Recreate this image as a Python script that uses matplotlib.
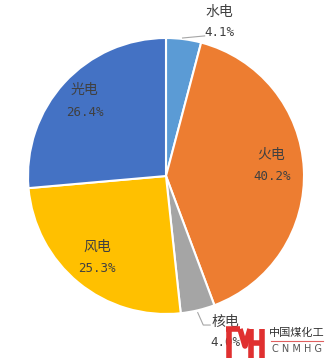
import matplotlib
matplotlib.use("Agg")
import matplotlib.pyplot as plt
from matplotlib.lines import Line2D

# power mix shares (%)
names = ["水电", "火电", "核电", "风电", "光电"]
shares = [4.1, 40.2, 4.0, 25.3, 26.4]
colors = ["#5B9BD5", "#ED7D31", "#A5A5A5", "#FFC000", "#4472C4"]

# label anchors (data coords, radius 1 pie)
name_pos = [(0.39, 1.19), (0.76, 0.15), (0.43, -1.06), (-0.50, -0.51), (-0.59, 0.62)]
pct_pos = [(0.39, 1.04), (0.77, 0.00), (0.43, -1.21), (-0.50, -0.67), (-0.59, 0.46)]

W, H = 328, 358
fig = plt.figure(figsize=(W / 100, H / 100), dpi=100)
fig.patch.set_facecolor("white")

cx, cy, r = 166, 176, 138
ax = fig.add_axes([(cx - r) / W, (H - cy - r) / H, 2 * r / W, 2 * r / H])
ax.pie(shares, colors=colors, startangle=90, counterclock=False, radius=1,
       wedgeprops=dict(edgecolor="white", linewidth=1.5))
ax.set_xlim(-1, 1)
ax.set_ylim(-1, 1)
ax.set_aspect("equal")
ax.axis("off")

for i in range(len(names)):
    ax.text(*name_pos[i], names[i], ha="center", va="center", fontsize=10,
            color="#404040", family=["Noto Sans CJK SC", "DejaVu Sans"], clip_on=False)
    ax.text(*pct_pos[i], f"{shares[i]:.1f}%", ha="center", va="center", fontsize=9,
            color="#404040", family=["DejaVu Sans Mono"], clip_on=False)

# leader lines
ax.plot([0.12, 0.28], [1.0, 1.015], color="#A6A6A6", lw=0.8, clip_on=False)
ax.plot([0.23, 0.27, 0.32], [-0.99, -1.08, -1.08], color="#A6A6A6", lw=0.8, clip_on=False)

# watermark logo (pixel coords -> figure fraction)
def fx(px):
    return px / W

def fy(py):
    return 1 - py / H

red = "#E03030"
strokes = [
    [(226, 329), (240, 329)],
    [(229, 329), (229, 358)],
    [(240, 329), (245, 346), (250, 329)],
    [(251, 329), (251, 358)],
    [(251, 343), (261, 343)],
    [(262, 329), (262, 358)],
]
for s in strokes:
    xs = [fx(p[0]) for p in s]
    ys = [fy(p[1]) for p in s]
    fig.add_artist(Line2D(xs, ys, color=red, lw=4, solid_capstyle="butt", zorder=10))

fig.text(fx(297), fy(333), "中国煤化工", ha="center", va="center", fontsize=8,
         color="#333333", family=["Noto Sans CJK SC"], zorder=10)
fig.add_artist(Line2D([fx(271), fx(323)], [fy(341), fy(341)], color="#E06060", lw=0.8, zorder=10))
fig.text(fx(297), fy(349), "C N M H G", ha="center", va="center", fontsize=7,
         color="#555555", family=["DejaVu Sans"], zorder=10)

fig.savefig("out.png", dpi=100, facecolor="white")
